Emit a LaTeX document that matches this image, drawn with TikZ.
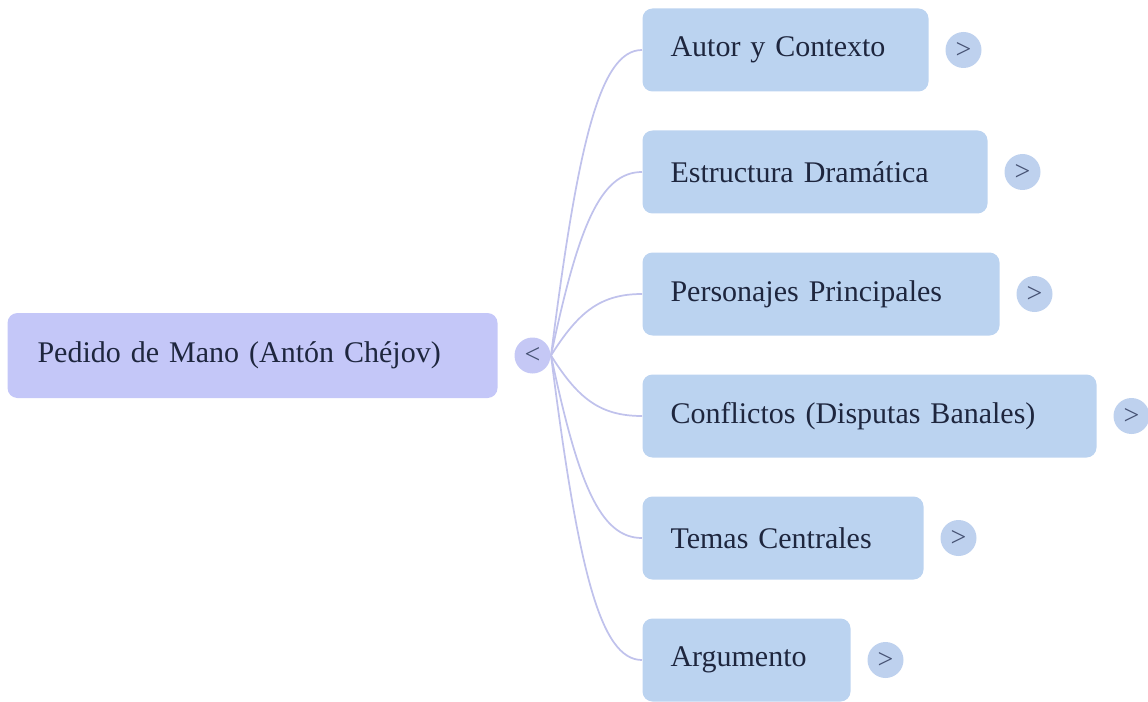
\documentclass[tikz,border=0pt]{standalone}
\usepackage{fontspec}
\setmainfont{Liberation Serif}
\usetikzlibrary{positioning}

\definecolor{rootfill}{RGB}{196,199,248}
\definecolor{subfill}{RGB}{187,211,240}
\definecolor{togfill}{RGB}{190,209,238}
\definecolor{roottogfill}{RGB}{197,200,245}
\definecolor{linkcol}{RGB}{192,194,236}
\definecolor{txtcol}{RGB}{30,38,62}
\definecolor{signcol}{RGB}{70,82,115}

\tikzset{every picture/.style={line width=0.75pt}}
\tikzset{
	rootbox/.style={fill=rootfill, rounded corners=7.5pt, anchor=west, minimum height=63.75pt, inner xsep=22.5pt, text width=322.5pt, align=left, text=txtcol, font=\fontsize{22.5}{27}\selectfont},
	subbox/.style={fill=subfill, rounded corners=7.5pt, anchor=west, minimum height=62.25pt, inner xsep=21pt, text width=#1, align=left, text=txtcol, font=\fontsize{22.5}{27}\selectfont},
	togbtn/.style={circle, fill=togfill, minimum size=27pt, inner sep=0pt, text=signcol, font=\fontsize{21}{21}\selectfont},
	link/.style={draw=linkcol, line width=1.3pt}
}

\begin{document}
\begin{tikzpicture}[x=0.75pt,y=0.75pt,yscale=-1,xscale=1]
	\useasboundingbox (0,0) rectangle (1148,702);
	
	%Root
	\node [rootbox] (pedido) at (7,355.5) {Pedido de Mano (Antón Chéjov)};
	\node [togbtn, fill=roottogfill, right=12pt of pedido] (pedidotog) {<};
	
	%Branches
	\node [subbox=172.5pt] (autor) at (642,50) {Autor y Contexto};
	\node [subbox=216.75pt] (estructura) at (642,172) {Estructura Dramática};
	\node [subbox=225.75pt] (personajes) at (642,294) {Personajes Principales};
	\node [subbox=298.5pt] (conflictos) at (642,416) {Conflictos (Disputas Banales)};
	\node [subbox=168.75pt] (temas) at (642,538) {Temas Centrales};
	\node [subbox=114pt] (argumento) at (642,660) {Argumento};
	
	%Toggles
	\node [togbtn, right=12pt of autor] (autortog) {>};
	\node [togbtn, right=12pt of estructura] (estructuratog) {>};
	\node [togbtn, right=12pt of personajes] (personajestog) {>};
	\node [togbtn, right=12pt of conflictos] (conflictostog) {>};
	\node [togbtn, right=12pt of temas] (temastog) {>};
	\node [togbtn, right=12pt of argumento] (argumentotog) {>};
	
	%Curve Lines
	\draw [link] (pedidotog.east) .. controls +(27,-213) and +(-42,0) .. (autor.west);
	\draw [link] (pedidotog.east) .. controls +(27,-128) and +(-42,0) .. (estructura.west);
	\draw [link] (pedidotog.east) .. controls +(27,-43) and +(-42,0) .. (personajes.west);
	\draw [link] (pedidotog.east) .. controls +(27,43) and +(-42,0) .. (conflictos.west);
	\draw [link] (pedidotog.east) .. controls +(27,128) and +(-42,0) .. (temas.west);
	\draw [link] (pedidotog.east) .. controls +(27,213) and +(-42,0) .. (argumento.west);
	
\end{tikzpicture}
\end{document}
